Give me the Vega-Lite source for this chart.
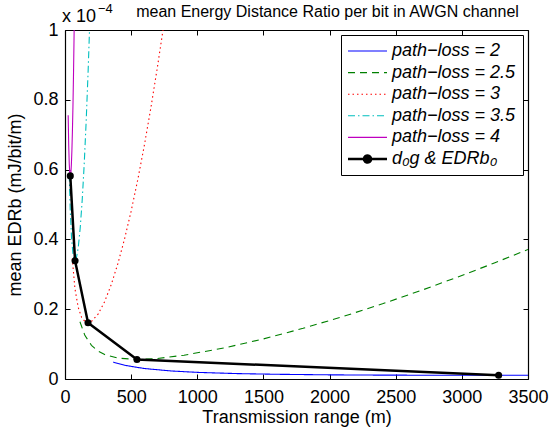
{
  "$schema": "https://vega.github.io/schema/vega-lite/v6.json",
  "width": 463,
  "height": 349,
  "autosize": "none",
  "padding": {"left": 65, "top": 30, "right": 21, "bottom": 53},
  "background": "white",
  "config": {
    "font": "Liberation Sans",
    "view": {"stroke": null},
    "axis": {"grid": false, "domainColor": "black", "domainWidth": 1.2, "tickColor": "black", "labelColor": "black", "titleColor": "black", "labelFontSize": 18, "titleFontSize": 18, "titleFontWeight": "normal", "labelFlush": false, "labelOverlap": false, "labelFont": "Liberation Sans", "titleFont": "Liberation Sans"}
  },
  "title": {"text": "mean Energy Distance Ratio per bit in AWGN channel", "fontSize": 16, "fontWeight": "normal", "font": "Liberation Sans", "color": "black", "dx": 31, "offset": -17},
  "datasets": {
    "curves": [
      {"s": "4", "d": 24, "v": 0.756}, {"s": "4", "d": 28, "v": 0.671}, {"s": "4", "d": 32, "v": 0.618}, {"s": "4", "d": 36, "v": 0.589}, {"s": "4", "d": 40, "v": 0.58}, {"s": "4", "d": 44, "v": 0.588}, {"s": "4", "d": 48, "v": 0.613}, {"s": "4", "d": 52, "v": 0.653}, {"s": "4", "d": 56, "v": 0.709}, {"s": "4", "d": 60, "v": 0.779}, {"s": "4", "d": 64, "v": 0.866}, {"s": "4", "d": 68, "v": 0.968}, {"s": "4", "d": 72, "v": 1.087},
      {"s": "3.5", "d": 32, "v": 0.586}, {"s": "3.5", "d": 40, "v": 0.48}, {"s": "3.5", "d": 50, "v": 0.402}, {"s": "3.5", "d": 60, "v": 0.36}, {"s": "3.5", "d": 70, "v": 0.342}, {"s": "3.5", "d": 76, "v": 0.339}, {"s": "3.5", "d": 85, "v": 0.345}, {"s": "3.5", "d": 100, "v": 0.376}, {"s": "3.5", "d": 115, "v": 0.433}, {"s": "3.5", "d": 130, "v": 0.512}, {"s": "3.5", "d": 145, "v": 0.614}, {"s": "3.5", "d": 160, "v": 0.738}, {"s": "3.5", "d": 175, "v": 0.884}, {"s": "3.5", "d": 190, "v": 1.053},
      {"s": "3", "d": 55, "v": 0.345}, {"s": "3", "d": 75, "v": 0.259}, {"s": "3", "d": 100, "v": 0.205}, {"s": "3", "d": 125, "v": 0.177}, {"s": "3", "d": 150, "v": 0.165}, {"s": "3", "d": 174, "v": 0.161}, {"s": "3", "d": 200, "v": 0.165}, {"s": "3", "d": 250, "v": 0.186}, {"s": "3", "d": 300, "v": 0.222}, {"s": "3", "d": 350, "v": 0.271}, {"s": "3", "d": 400, "v": 0.331}, {"s": "3", "d": 450, "v": 0.401}, {"s": "3", "d": 500, "v": 0.481}, {"s": "3", "d": 550, "v": 0.571}, {"s": "3", "d": 600, "v": 0.67}, {"s": "3", "d": 650, "v": 0.779}, {"s": "3", "d": 700, "v": 0.897}, {"s": "3", "d": 750, "v": 1.023},
      {"s": "2.5", "d": 113, "v": 0.164}, {"s": "2.5", "d": 150, "v": 0.125}, {"s": "2.5", "d": 200, "v": 0.0965}, {"s": "2.5", "d": 250, "v": 0.0802}, {"s": "2.5", "d": 300, "v": 0.0702}, {"s": "2.5", "d": 400, "v": 0.0599}, {"s": "2.5", "d": 544, "v": 0.0561}, {"s": "2.5", "d": 700, "v": 0.0589}, {"s": "2.5", "d": 900, "v": 0.0681}, {"s": "2.5", "d": 1200, "v": 0.0887}, {"s": "2.5", "d": 1500, "v": 0.1149}, {"s": "2.5", "d": 1800, "v": 0.1452}, {"s": "2.5", "d": 2100, "v": 0.1788}, {"s": "2.5", "d": 2400, "v": 0.2154}, {"s": "2.5", "d": 2700, "v": 0.2548}, {"s": "2.5", "d": 3000, "v": 0.2965}, {"s": "2.5", "d": 3250, "v": 0.3331}, {"s": "2.5", "d": 3500, "v": 0.3712},
      {"s": "2", "d": 365, "v": 0.0483}, {"s": "2", "d": 450, "v": 0.0394}, {"s": "2", "d": 600, "v": 0.03}, {"s": "2", "d": 800, "v": 0.0231}, {"s": "2", "d": 1000, "v": 0.019}, {"s": "2", "d": 1300, "v": 0.0155}, {"s": "2", "d": 1600, "v": 0.0135}, {"s": "2", "d": 2000, "v": 0.0119}, {"s": "2", "d": 2400, "v": 0.0111}, {"s": "2", "d": 2800, "v": 0.0108}, {"s": "2", "d": 3278, "v": 0.0106}, {"s": "2", "d": 3500, "v": 0.0106}
    ],
    "opt": [
      {"d": 40, "v": 0.582}, {"d": 76, "v": 0.339}, {"d": 174, "v": 0.161}, {"d": 544, "v": 0.056}, {"d": 3278, "v": 0.0106}
    ],
    "expo": [
      {"d": 0, "v": 1, "t": "x 10", "sup": "−4"}
    ]
  },
  "layer": [
    {
      "data": {"name": "curves"},
      "mark": {"type": "line", "clip": true, "strokeWidth": 1.1},
      "encoding": {
        "x": {"field": "d", "type": "quantitative", "scale": {"domain": [0, 3500], "nice": false, "zero": false},
          "axis": {"orient": "bottom", "values": [0, 500, 1000, 1500, 2000, 2500, 3000, 3500], "format": "d", "title": "Transmission range (m)", "tickSize": -5, "labelPadding": 14, "titlePadding": 2}},
        "y": {"field": "v", "type": "quantitative", "scale": {"domain": [0, 1], "nice": false},
          "axis": {"orient": "left", "values": [0, 0.2, 0.4, 0.6, 0.8, 1], "format": "~g", "title": "mean EDRb (mJ/bit/m)", "tickSize": -5, "labelPadding": 12, "titlePadding": 8}},
        "color": {"field": "s", "type": "nominal",
          "scale": {"domain": ["2", "2.5", "3", "3.5", "4", "d0"], "range": ["#0000ff", "#008000", "#ff0000", "#00bfbf", "#bf00bf", "#000000"]},
          "legend": {"title": null, "orient": "top-right", "offset": 5, "padding": 7, "strokeColor": "black", "fillColor": "white", "symbolSize": 400, "symbolStrokeWidth": 1, "labelFontSize": 18, "labelFontStyle": "italic", "labelFont": "Liberation Sans", "labelColor": "black", "labelOffset": 26, "rowPadding": 3.6, "labelLimit": 300,
            "labelExpr": "datum.value === 'd0' ? 'd₀g & EDRb₀' : 'path−loss = ' + datum.value",
            "encode": {"symbols": {"update": {
              "shape": {"signal": "datum.value === 'd0' ? 'M-0.9,0H3.0M1.4,0A0.35,0.35,0,1,1,0.7,0A0.35,0.35,0,1,1,1.4,0' : 'M-0.9,0H3.0'"},
              "strokeWidth": {"signal": "datum.value === 'd0' ? 2.5 : 1.1"},
              "fill": {"signal": "datum.value === 'd0' ? 'black' : 'transparent'"}
            }}}}},
        "strokeDash": {"field": "s", "type": "nominal",
          "scale": {"domain": ["2", "2.5", "3", "3.5", "4", "d0"], "range": [[1, 0], [7, 5], [1.5, 3], [7, 3, 1.5, 3], [1, 0], [1, 0]]},
          "legend": {"title": null, "orient": "top-right", "offset": 5, "padding": 7, "strokeColor": "black", "fillColor": "white", "symbolSize": 400, "symbolStrokeWidth": 1, "labelFontSize": 18, "labelFontStyle": "italic", "labelFont": "Liberation Sans", "labelColor": "black", "labelOffset": 26, "rowPadding": 3.6, "labelLimit": 300,
            "labelExpr": "datum.value === 'd0' ? 'd₀g & EDRb₀' : 'path−loss = ' + datum.value",
            "encode": {"symbols": {"update": {
              "shape": {"signal": "datum.value === 'd0' ? 'M-0.9,0H3.0M1.4,0A0.35,0.35,0,1,1,0.7,0A0.35,0.35,0,1,1,1.4,0' : 'M-0.9,0H3.0'"},
              "strokeWidth": {"signal": "datum.value === 'd0' ? 2.5 : 1.1"},
              "fill": {"signal": "datum.value === 'd0' ? 'black' : 'transparent'"}
            }}}}}
      }
    },
    {
      "data": {"name": "opt"},
      "mark": {"type": "line", "clip": true, "strokeWidth": 2.5, "color": "black"},
      "encoding": {
        "x": {"field": "d", "type": "quantitative", "axis": null},
        "y": {"field": "v", "type": "quantitative", "axis": null}
      }
    },
    {
      "data": {"name": "opt"},
      "mark": {"type": "circle", "size": 50, "color": "black", "opacity": 1},
      "encoding": {
        "x": {"field": "d", "type": "quantitative", "axis": {"orient": "top", "values": [0, 500, 1000, 1500, 2000, 2500, 3000, 3500], "labels": false, "title": null, "tickSize": -5}},
        "y": {"field": "v", "type": "quantitative", "axis": {"orient": "right", "values": [0, 0.2, 0.4, 0.6, 0.8, 1], "labels": false, "title": null, "tickSize": -5}}
      }
    },
    {
      "data": {"name": "expo"},
      "mark": {"type": "text", "align": "left", "baseline": "alphabetic", "fontSize": 18, "dx": -3, "dy": -8, "color": "black"},
      "encoding": {
        "x": {"field": "d", "type": "quantitative", "axis": null},
        "y": {"field": "v", "type": "quantitative", "axis": null},
        "text": {"field": "t"}
      }
    },
    {
      "data": {"name": "expo"},
      "mark": {"type": "text", "align": "left", "baseline": "alphabetic", "fontSize": 13, "dx": 33, "dy": -17, "color": "black"},
      "encoding": {
        "x": {"field": "d", "type": "quantitative", "axis": null},
        "y": {"field": "v", "type": "quantitative", "axis": null},
        "text": {"field": "sup"}
      }
    }
  ],
  "resolve": {"axis": {"x": "independent", "y": "independent"}}
}
